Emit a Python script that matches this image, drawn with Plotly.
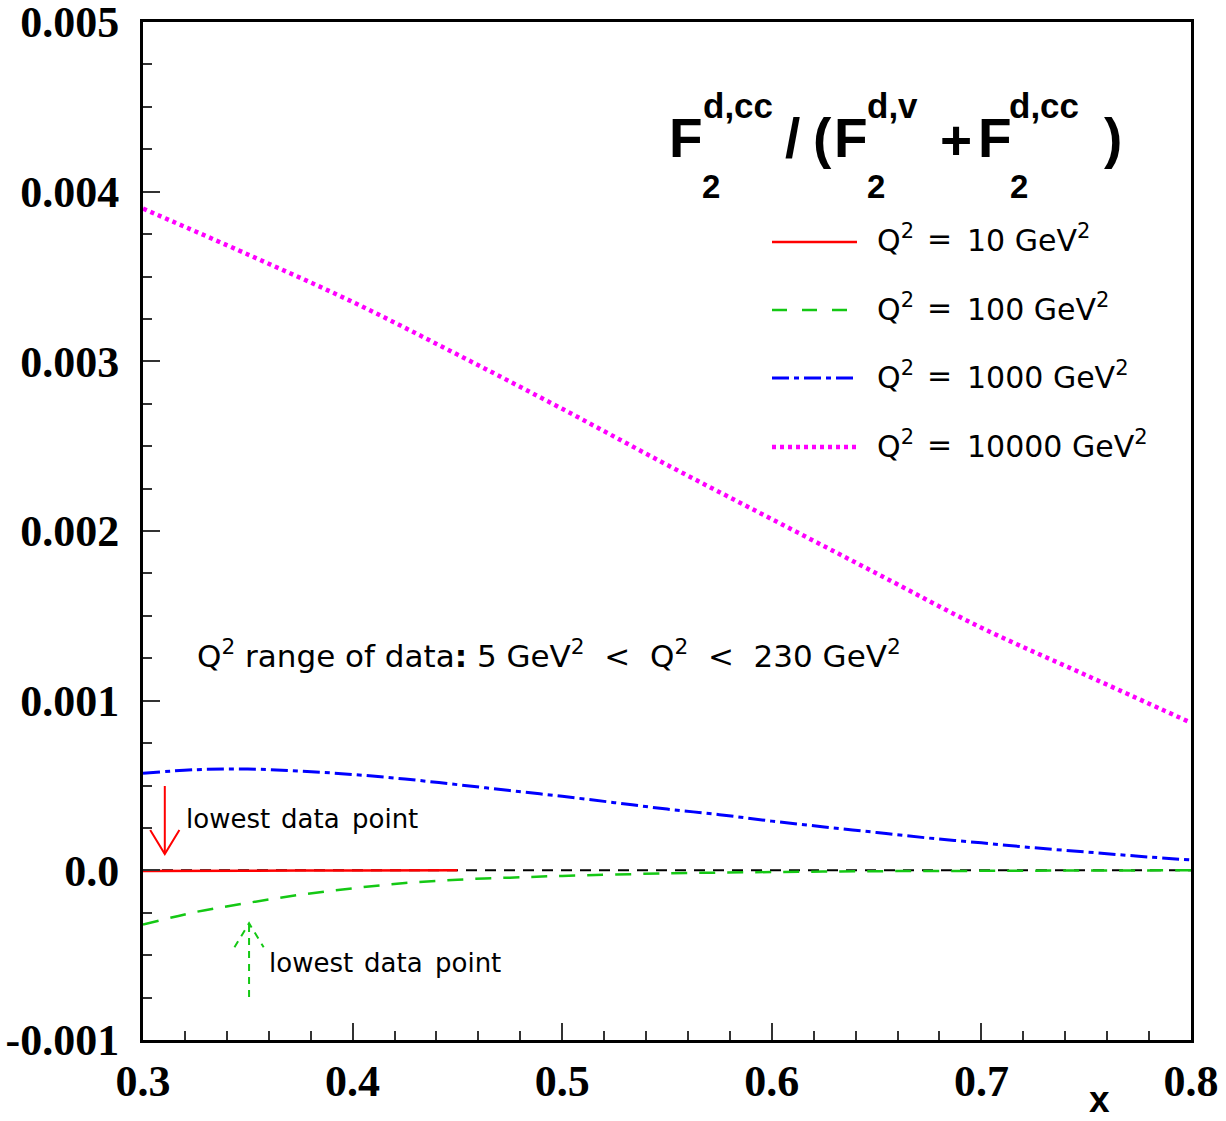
import plotly.graph_objects as go

# ---------------- data ----------------
x_q10 = [0.30, 0.35, 0.40, 0.45]
y_q10 = [-0.000004, -0.000002, -0.000001, 0.0]

x_q100 = [0.300, 0.325, 0.350, 0.375, 0.400, 0.425, 0.450, 0.475, 0.500,
          0.550, 0.600, 0.650, 0.700, 0.750, 0.800]
y_q100 = [-0.000320, -0.000246, -0.000192, -0.000144, -0.000106, -0.000075,
          -0.000055, -0.000043, -0.000033, -0.000018, -0.000010, -0.000005,
          -0.000003, -0.000001, 0.0]

x_q1000 = [0.300, 0.325, 0.350, 0.375, 0.400, 0.425, 0.450, 0.475, 0.500,
           0.525, 0.550, 0.575, 0.600, 0.625, 0.650, 0.675, 0.700, 0.725,
           0.750, 0.775, 0.800]
y_q1000 = [0.000572, 0.000593, 0.000597, 0.000585, 0.000565, 0.000538,
           0.000505, 0.000470, 0.000436, 0.000399, 0.000361, 0.000328,
           0.000290, 0.000256, 0.000223, 0.000190, 0.000162, 0.000133,
           0.000108, 0.000083, 0.000061]

x_q10000 = [0.30, 0.35, 0.40, 0.45, 0.50, 0.55, 0.60, 0.65, 0.70, 0.75, 0.80]
y_q10000 = [0.00390, 0.00363, 0.00335, 0.00304, 0.00272, 0.00239, 0.00207,
            0.00175, 0.00143, 0.00115, 0.00087]

zero_x = [0.3, 0.8]
zero_y = [0.0, 0.0]

# "lowest data point" arrows: x, tail y, tip y
arrow_red = (0.3104, 0.000497, 0.000096)
arrow_green = (0.3506, -0.000747, -0.000312)

legend_values = ["10", "100", "1000", "10000"]

x_tickvals = [0.3, 0.4, 0.5, 0.6, 0.7, 0.8]
x_ticktext = ["0.3", "0.4", "0.5", "0.6", "0.7", "0.8"]
y_tickvals = [-0.001, 0.0, 0.001, 0.002, 0.003, 0.004, 0.005]
y_ticktext = ["-0.001", "0.0", "0.001", "0.002", "0.003", "0.004", "0.005"]

# ---------------- layout geometry ----------------
W, H = 1226, 1121
L, R, T, B = 143, 35, 22, 81
PW, PH = W - L - R, H - T - B
XR = [0.3, 0.8]
YR = [-0.001, 0.005]


def px(xp):
    return (xp - L) / PW


def py(yp):
    return (H - B - yp) / PH


RED, GREEN, BLUE, MAG = "#ff0000", "#14c814", "#0000ff", "#ff00ff"
TXT_FONT = "DejaVu Sans"
NB = "\u00a0"

fig = go.Figure()

fig.add_trace(go.Scatter(x=zero_x, y=zero_y, mode="lines",
                         line=dict(color="black", width=2, dash="11px,8px"),
                         showlegend=False, hoverinfo="skip"))
fig.add_trace(go.Scatter(x=x_q100, y=y_q100, mode="lines", line_shape="spline",
                         line=dict(color=GREEN, width=2.5, dash="16px,12px"),
                         showlegend=False))
fig.add_trace(go.Scatter(x=x_q10, y=y_q10, mode="lines", line_shape="spline",
                         line=dict(color=RED, width=2.5), showlegend=False))
fig.add_trace(go.Scatter(x=x_q1000, y=y_q1000, mode="lines", line_shape="spline",
                         line=dict(color=BLUE, width=3, dash="17px,5px,5px,5px"),
                         showlegend=False))
fig.add_trace(go.Scatter(x=x_q10000, y=y_q10000, mode="lines", line_shape="spline",
                         line=dict(color=MAG, width=4.5, dash="4px,4px"),
                         showlegend=False))

# arrows (shaft + open V head)
hx = 14.6 * (XR[1] - XR[0]) / PW
hy = 24 * (YR[1] - YR[0]) / PH
for (ax, tail, tip), col, dash, direction in [
        (arrow_red, RED, "solid", -1), (arrow_green, GREEN, "7px,6px", 1)]:
    fig.add_trace(go.Scatter(x=[ax, ax], y=[tail, tip], mode="lines",
                             line=dict(color=col, width=2, dash=dash),
                             showlegend=False, hoverinfo="skip"))
    fig.add_trace(go.Scatter(x=[ax - hx, ax, ax + hx],
                             y=[tip - direction * hy, tip, tip - direction * hy],
                             mode="lines",
                             line=dict(color=col, width=2, dash=dash),
                             showlegend=False, hoverinfo="skip"))

annotations = []


def add_text(text, xp, yp, size, family=TXT_FONT, color="black", weight="normal",
             xanchor="left", yanchor="middle"):
    annotations.append(dict(text=text, x=px(xp), y=py(yp), xref="paper", yref="paper",
                            xanchor=xanchor, yanchor=yanchor, showarrow=False,
                            font=dict(family=family, size=size, color=color,
                                      weight=weight), borderpad=0))


# title F2^{d,cc} / (F2^{d,v} + F2^{d,cc})
TF = "Liberation Sans"
for t, xp, yp, s in [("F", 668, 138, 55), ("d,cc", 702, 106, 35), ("2", 701, 186, 33),
                     ("/", 784, 138, 55), ("(", 812, 138, 55),
                     ("F", 833, 138, 55), ("d,v", 866, 106, 35), ("2", 866, 186, 33),
                     ("+", 939, 140, 55),
                     ("F", 977, 138, 55), ("d,cc", 1008, 106, 35), ("2", 1009, 186, 33),
                     (")", 1103, 138, 55)]:
    add_text(t, xp, yp, s, family=TF, weight="bold")

# legend
legend_y = [242, 310, 378, 447]
legend_style = [(RED, "solid", 2.5), (GREEN, "15px,15px", 2.5),
                (BLUE, "17px,5px,5px,5px", 3), (MAG, "4px,4px", 4.5)]
shapes = []
for val, ly, (col, dash, w) in zip(legend_values, legend_y, legend_style):
    shapes.append(dict(type="line", xref="paper", yref="paper",
                       x0=px(772), x1=px(857), y0=py(ly), y1=py(ly),
                       line=dict(color=col, width=w, dash=dash)))
    add_text("Q<sup>2</sup>", 876, ly - 3, 30)
    add_text("=", 926, ly - 3, 30)
    add_text(f"{val} GeV<sup>2</sup>", 966, ly - 3, 30)

# Q^2 range text
range_text = ("Q<sup>2</sup> range of data<b>:</b> 5 GeV<sup>2</sup>" + NB + " &lt;" + NB +
              " Q<sup>2</sup>" + NB + " &lt;" + NB + " 230 GeV<sup>2</sup>")
add_text(range_text, 196, 654, 31)

for x0, y0 in [(185, 819), (268, 963)]:
    for wtxt, dx in [("lowest", 0), ("data", 95), ("point", 166)]:
        add_text(wtxt, x0 + dx, y0, 26)

# axis title
add_text("x", 1099, 1121, 37, family="Liberation Sans", weight="bold",
         xanchor="center", yanchor="bottom")

tickfont = dict(family="Liberation Serif", size=44, color="black", weight="bold")

fig.update_layout(
    width=W, height=H,
    margin=dict(l=L, r=R, t=T, b=B),
    paper_bgcolor="white", plot_bgcolor="white",
    showlegend=False,
    annotations=annotations,
    shapes=shapes,
    xaxis=dict(range=XR, tickmode="array", tickvals=x_tickvals, ticktext=x_ticktext,
               ticks="inside", ticklen=17, tickwidth=1.5, tickcolor="#333",
               minor=dict(tickmode="linear", tick0=0.3, dtick=0.02, ticks="inside",
                          ticklen=9, tickwidth=1.5, tickcolor="#333"),
               showgrid=False, zeroline=False, showline=True, linecolor="black",
               linewidth=3, mirror=True, tickfont=tickfont, ticklabelstandoff=0,
               automargin=False, ticklabeloverflow="allow"),
    yaxis=dict(range=YR, tickmode="array", tickvals=y_tickvals, ticktext=y_ticktext,
               ticks="inside", ticklen=17, tickwidth=1.5, tickcolor="#333",
               minor=dict(tickmode="linear", tick0=-0.001, dtick=0.00025, ticks="inside",
                          ticklen=9, tickwidth=1.5, tickcolor="#333"),
               showgrid=False, zeroline=False, showline=True, linecolor="black",
               linewidth=3, mirror=True, tickfont=tickfont, ticklabelstandoff=12,
               automargin=False, ticklabeloverflow="allow"),
)

fig.write_html("out.html")
